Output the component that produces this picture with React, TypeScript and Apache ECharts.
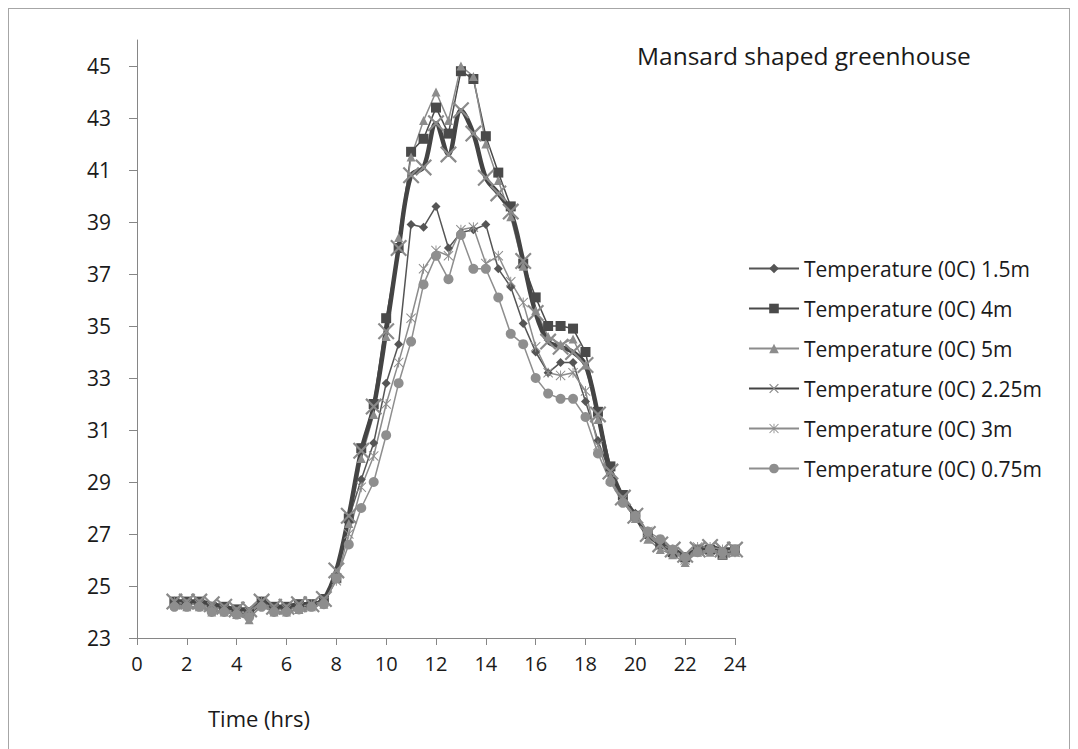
import React, { useEffect, useRef } from "react";
import * as echarts from "echarts";

const times = [1.5, 2, 2.5, 3, 3.5, 4, 4.5, 5, 5.5, 6, 6.5, 7, 7.5, 8, 8.5, 9, 9.5, 10, 10.5, 11, 11.5, 12, 12.5, 13, 13.5, 14, 14.5, 15, 15.5, 16, 16.5, 17, 17.5, 18, 18.5, 19, 19.5, 20, 20.5, 21, 21.5, 22, 22.5, 23, 23.5, 24];

const temp150 = [24.3, 24.3, 24.3, 24.2, 24.1, 24.0, 23.9, 24.3, 24.1, 24.1, 24.2, 24.2, 24.4,
  25.4, 27.6, 29.1, 30.5, 32.8, 34.3, 38.9, 38.8, 39.6, 38.0, 38.6, 38.7, 38.9, 37.2, 36.5, 35.1, 34.0, 33.2, 33.6, 33.6, 32.1, 30.6, 29.3, 28.5, 27.8, 27.0, 26.7, 26.4, 26.1, 26.3, 26.4, 26.3, 26.3];
const temp400 = [24.4, 24.4, 24.4, 24.2, 24.2, 24.1, 24.0, 24.4, 24.2, 24.2, 24.3, 24.3, 24.5,
  25.3, 27.6, 30.3, 32.0, 35.3, 38.0, 41.7, 42.2, 43.4, 42.4, 44.8, 44.5, 42.3, 40.9, 39.6, 37.4, 36.1, 35.0, 35.0, 34.9, 34.0, 31.7, 29.6, 28.5, 27.7, 27.0, 26.6, 26.3, 26.1, 26.4, 26.4, 26.2, 26.4];
const temp500 = [24.3, 24.2, 24.2, 24.0, 24.0, 23.9, 23.7, 24.3, 24.0, 24.0, 24.1, 24.2, 24.3,
  25.3, 27.4, 29.9, 31.6, 34.6, 38.4, 41.5, 42.9, 44.0, 42.9, 45.0, 44.6, 42.0, 40.6, 39.2, 37.3, 35.6, 34.6, 34.3, 34.5, 33.5, 31.4, 29.2, 28.3, 27.6, 26.8, 26.4, 26.2, 25.9, 26.3, 26.3, 26.2, 26.3];
const temp225 = [24.4, 24.4, 24.4, 24.3, 24.2, 24.1, 24.1, 24.4, 24.2, 24.2, 24.3, 24.3, 24.5,
  25.6, 27.7, 30.2, 31.9, 34.8, 38.0, 40.8, 41.1, 42.8, 41.6, 43.3, 42.4, 40.7, 40.1, 39.4, 37.5, 35.5, 34.4, 34.2, 34.0, 33.5, 31.6, 29.4, 28.4, 27.7, 27.0, 26.6, 26.4, 26.2, 26.4, 26.5, 26.4, 26.4];
const temp300 = [24.4, 24.3, 24.3, 24.2, 24.1, 24.0, 24.0, 24.4, 24.1, 24.1, 24.2, 24.3, 24.4,
  25.2, 27.0, 28.8, 30.0, 32.0, 33.6, 35.3, 37.2, 37.9, 37.7, 38.7, 38.8, 37.4, 37.7, 36.7, 35.9, 34.2, 33.2, 33.1, 33.2, 32.5, 30.4, 29.1, 28.3, 27.7, 27.1, 26.6, 26.4, 26.0, 26.5, 26.5, 26.4, 26.3];
const temp075 = [24.2, 24.2, 24.2, 24.0, 24.0, 23.9, 23.8, 24.2, 24.0, 24.0, 24.1, 24.2, 24.3,
  25.3, 26.6, 28.0, 29.0, 30.8, 32.8, 34.4, 36.6, 37.7, 36.8, 38.5, 37.2, 37.2, 36.1, 34.7, 34.3, 33.0, 32.4, 32.2, 32.2, 31.5, 30.1, 29.0, 28.2, 27.7, 27.1, 26.8, 26.4, 26.1, 26.3, 26.4, 26.3, 26.4];

const seriesNames = [
  "Temperature (0C) 1.5m",
  "Temperature (0C) 4m",
  "Temperature (0C) 5m",
  "Temperature (0C) 2.25m",
  "Temperature (0C) 3m",
  "Temperature (0C) 0.75m",
];
const yTickValues = [23, 25, 27, 29, 31, 33, 35, 37, 39, 41, 43, 45];
const titleText = "Mansard shaped greenhouse";
const xAxisTitle = "Time (hrs)";

const FONT = "'Open Sans', 'Noto Sans', sans-serif";
const X_PATH = "path://M0,0.9 L0.9,0 L10,9.1 L9.1,10 Z M9.1,0 L10,0.9 L0.9,10 L0,9.1 Z";
const STAR_PATH = "path://M4.55,0 H5.45 V10 H4.55 Z M0,0.7 L0.7,0 L10,9.3 L9.3,10 Z M9.3,0 L10,0.7 L0.7,10 L0,9.3 Z";

function pairs(vals: number[]) {
  return times.map((t, i) => [t, vals[i]]);
}

export default function App() {
  const ref = useRef<HTMLDivElement>(null);
  useEffect(() => {
    document.body.style.overflow = "hidden";
    const chart = echarts.init(ref.current!, null, { renderer: "svg" });
    const mk = (name: string, vals: number[], color: string, symbol: string, size: number, width: number, extra: any = {}) => ({
      name,
      type: "line",
      data: pairs(vals),
      symbol,
      symbolSize: size,
      showSymbol: true,
      lineStyle: { color, width },
      itemStyle: { color: extra.markerColor || color },
      ...extra.opts,
    });
    chart.setOption({
      animation: false,
      backgroundColor: "#ffffff",
      textStyle: { fontFamily: FONT },
      grid: { left: 128, right: 334, top: 31, bottom: 111, containLabel: false },
      xAxis: {
        type: "value",
        min: 0,
        max: 24,
        interval: 2,
        axisLine: { lineStyle: { color: "#868686", width: 1 } },
        axisTick: { show: true, inside: false, length: 7, lineStyle: { color: "#868686" } },
        axisLabel: { color: "#1a1a1a", fontSize: 20, fontFamily: FONT, margin: 15 },
        splitLine: { show: false },
      },
      yAxis: {
        type: "value",
        min: 23,
        max: 46,
        axisLine: { show: true, lineStyle: { color: "#868686", width: 1 } },
        axisTick: { show: true, inside: false, length: 8, lineStyle: { color: "#868686" }, customValues: yTickValues },
        axisLabel: { color: "#1a1a1a", fontSize: 21, fontFamily: FONT, margin: 26, customValues: yTickValues },
        splitLine: { show: false },
      },
      legend: {
        orient: "vertical",
        left: 734,
        top: 244,
        itemWidth: 50,
        itemHeight: 12,
        itemGap: 19,
        textStyle: { fontSize: 21, color: "#1a1a1a", fontFamily: FONT },
        data: seriesNames,
      },
      graphic: [
        { type: "text", left: 628, top: 34, style: { text: titleText, fontSize: 24.5, fill: "#1a1a1a", fontFamily: FONT } },
        { type: "text", left: 199, top: 698, style: { text: xAxisTitle, fontSize: 22, fill: "#1a1a1a", fontFamily: FONT } },
      ],
      series: [
        mk(seriesNames[0], temp150, "#555555", "diamond", 9, 1.5),
        mk(seriesNames[1], temp400, "#4a4a4a", "rect", 10, 1.5),
        mk(seriesNames[2], temp500, "#8c8c8c", "triangle", 9, 1.5),
        mk(seriesNames[3], temp225, "#444444", X_PATH, 17, 4.5, { markerColor: "#8a8a8a", opts: { smooth: 0.35 } }),
        mk(seriesNames[4], temp300, "#8c8c8c", STAR_PATH, 10, 1.5),
        mk(seriesNames[5], temp075, "#8e8e8e", "circle", 10, 1.5),
      ],
    });
    return () => chart.dispose();
  }, []);
  return (
    <div
      style={{
        width: 1062,
        height: 741,
        boxSizing: "border-box",
        borderTop: "1px solid #a6a6a6",
        borderLeft: "1px solid #a6a6a6",
        borderRight: "1px solid #a6a6a6",
        background: "#fff",
      }}
    >
      <div ref={ref} style={{ width: 1060, height: 740 }} />
    </div>
  );
}
